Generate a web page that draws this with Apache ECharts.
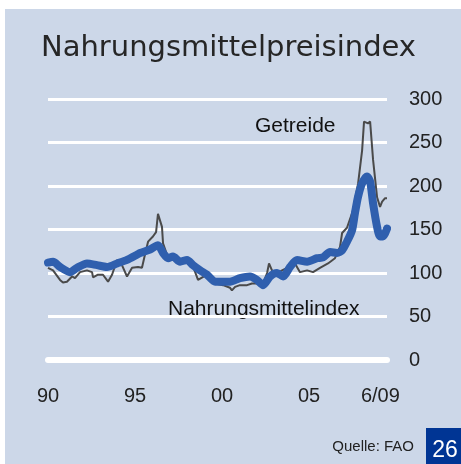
<!DOCTYPE html>
<html>
<head>
<meta charset="utf-8">
<title>Nahrungsmittelpreisindex</title>
<script src="https://cdn.jsdelivr.net/npm/echarts@6/dist/echarts.min.js"></script>
<style>
  html, body { margin: 0; padding: 0; background: #fff; }
  #bg { position: absolute; left: 5px; top: 9px; width: 456px; height: 455px; background: #ccd7e8; }
  #main { position: absolute; left: 0; top: 0; width: 461px; height: 464px; }
</style>
</head>
<body>
<div id="bg"></div>
<div id="main"></div>
<script>
// Zeitachse (Dezimaljahre) und Werte

// Nahrungsmittelindex (dicke blaue Linie)
var foodYears = [1990.00, 1990.29, 1990.69, 1991.26, 1991.67, 1992.24, 1992.82, 1993.39, 1993.97, 1994.54,
  1995.11, 1995.29, 1995.86, 1996.32, 1996.61, 1996.90, 1997.18, 1997.59, 1997.99, 1998.33,
  1998.74, 1999.14, 1999.60, 2000.06, 2000.46, 2001.03, 2001.61, 2002.01, 2002.36, 2002.76,
  2003.16, 2003.51, 2003.91, 2004.31, 2004.89, 2005.46, 2005.80, 2006.21, 2006.61, 2006.90,
  2007.18, 2007.47, 2007.64, 2007.82, 2008.05, 2008.33, 2008.51, 2008.68, 2008.91, 2009.08,
  2009.25, 2009.48];
var foodValues = [112, 113, 107, 101, 106, 111, 109, 107, 111, 115,
  121, 123, 127, 132, 123, 117, 119, 113, 115, 109,
  103, 98, 90, 90, 90, 94, 96, 92, 86, 96,
  100, 96, 107, 115, 113, 117, 118, 124, 123, 126,
  136, 149, 169, 188, 203, 211, 205, 180, 153, 142,
  142, 151];

// Getreide (dünne graue Linie)
var cerealYears = [1990.00, 1990.29, 1990.69, 1990.86, 1991.09, 1991.38, 1991.55, 1991.84, 1992.24, 1992.53,
  1992.59, 1992.87, 1993.16, 1993.45, 1993.68, 1993.97, 1994.25, 1994.54, 1994.83, 1995.17,
  1995.40, 1995.57, 1995.75, 1996.03, 1996.21, 1996.32, 1996.55, 1996.61, 1996.84, 1997.18,
  1997.59, 1997.99, 1998.33, 1998.62, 1999.14, 1999.60, 2000.06, 2000.46, 2000.57, 2000.75,
  2001.03, 2001.44, 2001.72, 2002.36, 2002.59, 2002.70, 2002.87, 2003.16, 2003.74, 2004.08,
  2004.48, 2004.89, 2005.23, 2005.63, 2006.09, 2006.49, 2006.78, 2006.90, 2007.18, 2007.53,
  2007.82, 2008.05, 2008.16, 2008.39, 2008.51, 2008.68, 2008.91, 2009.08, 2009.20, 2009.37,
  2009.48];
var cerealValues = [106, 103, 92, 89, 90, 96, 94, 101, 103, 101,
  95, 98, 98, 90, 98, 115, 109, 96, 106, 107,
  106, 121, 136, 142, 147, 168, 153, 134, 121, 117,
  113, 115, 108, 92, 98, 88, 86, 83, 80, 84,
  86, 86, 88, 88, 100, 111, 103, 100, 106, 115,
  101, 103, 101, 106, 111, 117, 130, 146, 152, 172,
  203, 241, 274, 272, 274, 230, 187, 176, 182, 186,
  186];

// Achsenbeschriftungen
var xTickValues = [1990, 1995, 2000, 2005, 2009.1];
var xTickLabels = ['90', '95', '00', '05', '6/09'];

function pairs(xs, ys) {
  return xs.map(function (x, i) { return [x, ys[i]]; });
}

function chart1() {
  var myChart = echarts.init(document.getElementById('main'), null, { renderer: 'canvas' });
  var option = {
    backgroundColor: 'transparent',
    animation: false,
    title: {
      text: 'Nahrungsmittelpreisindex',
      left: 36,
      top: 29,
      textStyle: {
        fontFamily: 'DejaVu Sans',
        fontSize: 29,
        fontWeight: 'normal',
        color: '#262626'
      }
    },
    grid: {
      left: 48,
      right: 74,
      top: 99,
      bottom: 104
    },
    xAxis: {
      type: 'value',
      min: 1990,
      max: 2009.48,
      axisLine: { show: true, lineStyle: { color: '#fff', width: 6 } },
      axisTick: { show: false },
      splitLine: { show: false },
      axisLabel: {
        customValues: xTickValues,
        formatter: function (v) {
          var i = xTickValues.indexOf(v);
          return i >= 0 ? xTickLabels[i] : '';
        },
        margin: 26,
        fontFamily: 'Liberation Sans',
        fontSize: 20,
        color: '#222'
      }
    },
    yAxis: {
      type: 'value',
      position: 'right',
      min: 0,
      max: 300,
      interval: 50,
      axisLine: { show: false },
      axisTick: { show: false },
      splitLine: { lineStyle: { color: '#fff', width: 3 } },
      axisLabel: {
        margin: 22,
        fontFamily: 'Liberation Sans',
        fontSize: 20,
        color: '#222'
      }
    },
    series: [
      {
        name: 'Getreide',
        type: 'line',
        data: pairs(cerealYears, cerealValues),
        showSymbol: false,
        lineStyle: { color: '#4a4a4a', width: 2 },
        z: 2
      },
      {
        name: 'Nahrungsmittelindex',
        type: 'line',
        data: pairs(foodYears, foodValues),
        showSymbol: false,
        smooth: 0.25,
        lineStyle: { color: '#2f5fae', width: 8, cap: 'round', join: 'round' },
        z: 3
      }
    ],
    graphic: [
      {
        type: 'text',
        style: { x: 255, y: 126, text: 'Getreide', font: '21px "Liberation Sans"', fill: '#111', verticalAlign: 'middle' }
      },
      {
        type: 'text',
        style: { x: 168, y: 309, text: 'Nahrungsmittelindex', font: '21px "Liberation Sans"', fill: '#111', verticalAlign: 'middle' }
      },
      {
        type: 'text',
        style: { x: 414, y: 447, text: 'Quelle: FAO', font: '15px "Liberation Sans"', fill: '#222', align: 'right', verticalAlign: 'middle' }
      },
      {
        type: 'rect',
        shape: { x: 426, y: 428, width: 35, height: 36 },
        style: { fill: '#003594' }
      },
      {
        type: 'text',
        style: { x: 445, y: 451, text: '26', font: '23px "Liberation Sans"', fill: '#fff', align: 'center', verticalAlign: 'middle' }
      }
    ]
  };
  myChart.setOption(option);
}

window.onload = function () {
  chart1();
};
</script>
</body>
</html>
